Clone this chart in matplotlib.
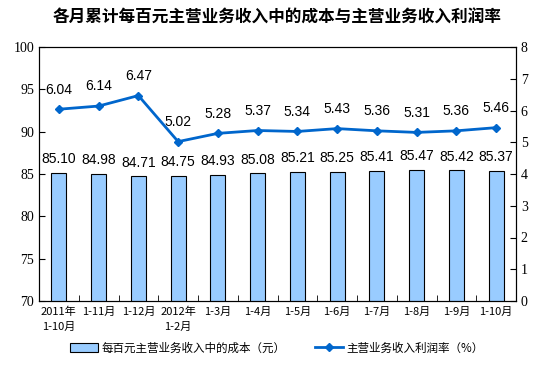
import matplotlib.pyplot as plt
import numpy as np

months = ["2011年\n1-10月", "1-11月", "1-12月", "2012年\n1-2月", "1-3月", "1-4月",
          "1-5月", "1-6月", "1-7月", "1-8月", "1-9月", "1-10月"]
cost = [85.10, 84.98, 84.71, 84.75, 84.93, 85.08, 85.21, 85.25, 85.41, 85.47, 85.42, 85.37]
margin = [6.04, 6.14, 6.47, 5.02, 5.28, 5.37, 5.34, 5.43, 5.36, 5.31, 5.36, 5.46]

cjk = ['Noto Sans CJK SC', 'DejaVu Sans']
fig = plt.figure(figsize=(5.54, 3.71), dpi=100)
ax = fig.add_axes([39 / 554, 1 - 301 / 371, 477 / 554, 254 / 371])
ax2 = ax.twinx()

x = np.arange(len(months))
ax.bar(x, cost, width=0.38, color='#99CCFF', edgecolor='black', linewidth=0.8,
       label='每百元主营业务收入中的成本（元）', zorder=2)
for xi, v in zip(x, cost):
    ax.text(xi, v + 0.8, f"{v:.2f}", ha='center', va='bottom', fontsize=10,
            family='Liberation Sans')
ax.set_ylim(70, 100)
ax.set_xlim(-0.5, len(months) - 0.5)
ax.set_yticks(range(70, 101, 5))
ax.set_xticks(x)
ax.set_xticklabels(months, family=cjk, fontsize=8, linespacing=1.6)
ax.set_xticks(np.arange(-0.5, len(months)), minor=True)
ax.tick_params(axis='x', which='major', length=0, pad=4)
ax.tick_params(axis='x', which='minor', direction='in', length=4)
ax.tick_params(axis='y', direction='in', length=4, labelsize=10)
for lab in ax.get_yticklabels():
    lab.set_family('Liberation Serif')

ax2.plot(x, margin, color='#0066CC', lw=2, marker='D', ms=4,
         label='主营业务收入利润率（%）', zorder=3)
for xi, v in zip(x, margin):
    ax2.text(xi, v + 0.4, f"{v:.2f}", ha='center', va='bottom', fontsize=10,
             family='Liberation Sans')
ax2.set_ylim(0, 8)
ax2.set_yticks(range(0, 9))
ax2.tick_params(axis='y', direction='in', length=4, labelsize=10)
for lab in ax2.get_yticklabels():
    lab.set_family('Liberation Serif')

fig.text(0.5, 1 - 18 / 371, "各月累计每百元主营业务收入中的成本与主营业务收入利润率",
         ha='center', va='center', fontsize=12, fontweight='bold', family=cjk)

h1, l1 = ax.get_legend_handles_labels()
h2, l2 = ax2.get_legend_handles_labels()
fig.legend(h1 + h2, l1 + l2, loc='center', bbox_to_anchor=(0.5, 1 - 348 / 371),
           ncol=2, frameon=False, prop={'family': cjk, 'size': 8.3},
           handlelength=2.4, handletextpad=0.3, columnspacing=2.6)

plt.savefig("out.png")
